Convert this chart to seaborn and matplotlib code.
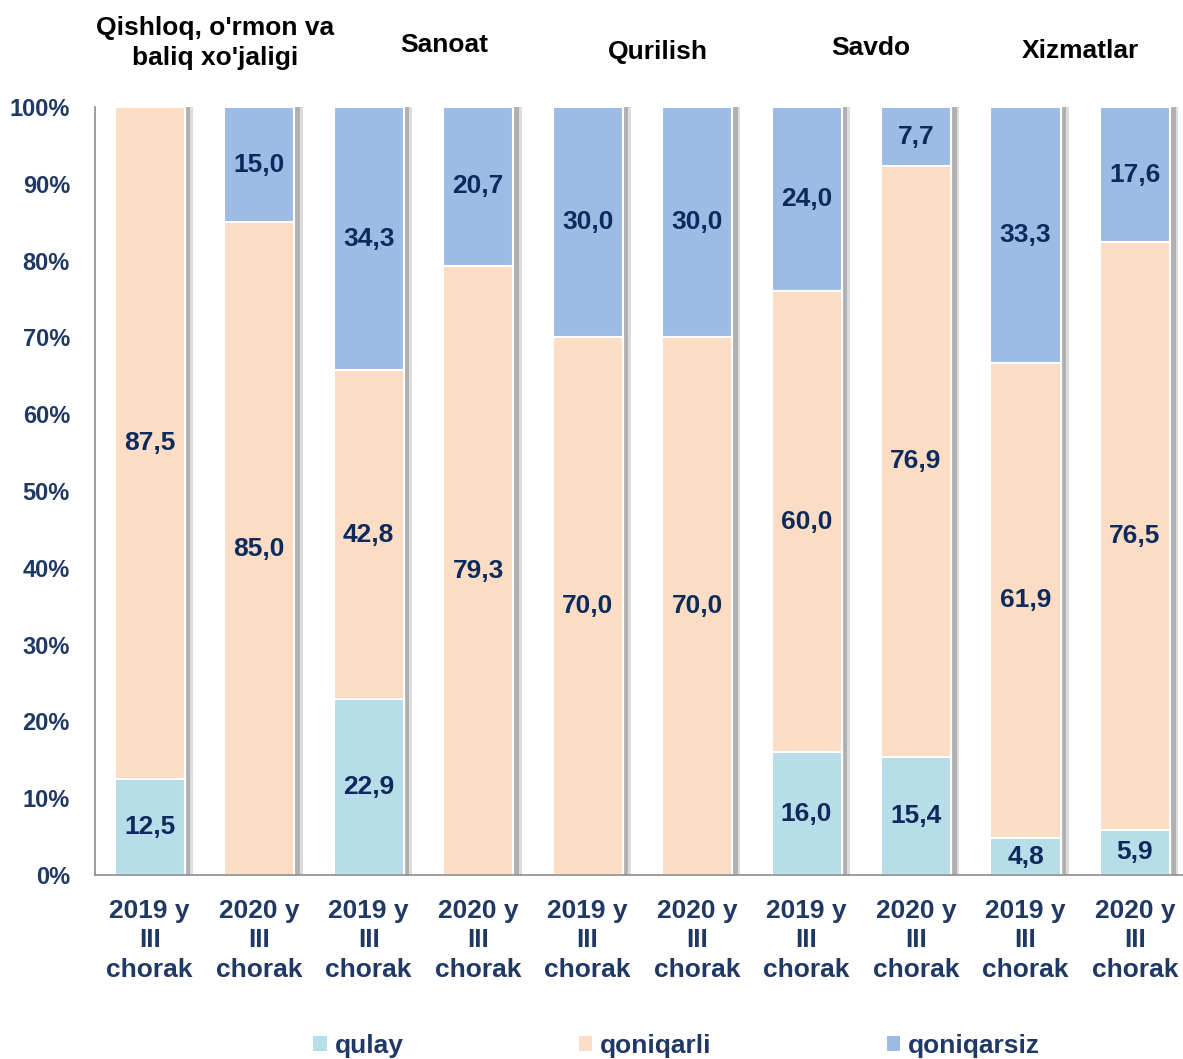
import numpy as np
import pandas as pd
import matplotlib.pyplot as plt
import matplotlib.patheffects as pe
from matplotlib.patches import Patch
import seaborn as sns

# data
groups = ["Qishloq, o'rmon va\nbaliq xo'jaligi", "Sanoat", "Qurilish", "Savdo", "Xizmatlar"]
periods = ["2019 y\nIII\nchorak", "2020 y\nIII\nchorak"] * 5
qulay = [12.5, 0, 22.9, 0, 0, 0, 16.0, 15.4, 4.8, 5.9]
qoniqarli = [87.5, 85.0, 42.8, 79.3, 70.0, 70.0, 60.0, 76.9, 61.9, 76.5]
qoniqarsiz = [0, 15.0, 34.3, 20.7, 30.0, 30.0, 24.0, 7.7, 33.3, 17.6]
series_names = ["qulay", "qoniqarli", "qoniqarsiz"]
colors = ["#B7DDE8", "#FBDCC4", "#9DBBE4"]

label_color = "#1F3864"
value_color = "#0E2A5C"

sns.set_style("white")
plt.rcParams['font.family'] = ['Liberation Sans', 'DejaVu Sans']
plt.rcParams['font.weight'] = 'bold'

df = pd.DataFrame({
    "x": [f"b{i}" for i in range(len(periods))],
    "qulay": qulay,
    "qoniqarli": qoniqarli,
    "qoniqarsiz": qoniqarsiz,
})
df["cum1"] = df["qulay"]
df["cum2"] = df["qulay"] + df["qoniqarli"]
df["cum3"] = df["cum2"] + df["qoniqarsiz"]

fig = plt.figure(figsize=(11.83, 10.59), dpi=100)
ax = fig.add_axes([0.0803, 0.1737, 0.93, 0.7253])

for col, c in [("cum3", colors[2]), ("cum2", colors[1]), ("cum1", colors[0])]:
    sns.barplot(data=df, x="x", y=col, color=c, width=0.64, saturation=1,
                edgecolor="white", linewidth=1.5, ax=ax)
# soft shadow on the right side of the full-height bars
shadow = [pe.SimplePatchShadow(offset=(6, 0), shadow_rgbFace="#DDDDDD", alpha=1),
          pe.SimplePatchShadow(offset=(4, 0), shadow_rgbFace="#B0B0B0", alpha=1), pe.Normal()]
for bar in ax.containers[0]:
    bar.set_path_effects(shadow)

for i in range(len(df)):
    bottom = 0
    for name in series_names:
        v = df.loc[i, name]
        if v > 0:
            ax.text(i, bottom + v / 2, f"{v:.1f}".replace(".", ","), ha="center", va="center",
                    fontsize=19, fontweight="bold", color=value_color)
        bottom += v

ax.set_ylim(0, 100)
ax.set_xlim(-0.5, 9.55)
ax.set_yticks(np.arange(0, 101, 10))
ax.set_yticklabels([f"{t}%" for t in range(0, 101, 10)], fontsize=17, fontweight="bold", color=label_color)
ax.set_xticks(range(len(periods)))
ax.set_xticklabels(periods, fontsize=19, fontweight="bold", color=label_color, linespacing=1.3)
ax.tick_params(axis="y", length=0, pad=18)
ax.tick_params(axis="x", length=0, pad=17)
ax.set_xlabel("")
ax.set_ylabel("")
for s in ["top", "right"]:
    ax.spines[s].set_visible(False)
for s in ["left", "bottom"]:
    ax.spines[s].set_color("#8C8C8C")
    ax.spines[s].set_linewidth(1.2)

# group titles above the pairs of bars
title_pos = [(215, 43), (444, 45), (658, 52), (871, 48), (1080, 51)]
for g, (px, py) in zip(groups, title_pos):
    fig.text(px / 1183, 1 - py / 1059, g, ha="center", va="center", fontsize=19,
             fontweight="bold", color="black", linespacing=1.27)

handles = [Patch(facecolor=c, edgecolor="none") for c in colors]
leg = fig.legend(handles, series_names, loc="center", bbox_to_anchor=(0.572, 1 - 1046 / 1059),
                 ncol=3, frameon=False, handlelength=0.5, handleheight=0.5, handletextpad=0.3,
                 columnspacing=6.65, prop={"size": 19, "weight": "bold"})
for t in leg.get_texts():
    t.set_color(label_color)

fig.savefig("out.png", dpi=100)
